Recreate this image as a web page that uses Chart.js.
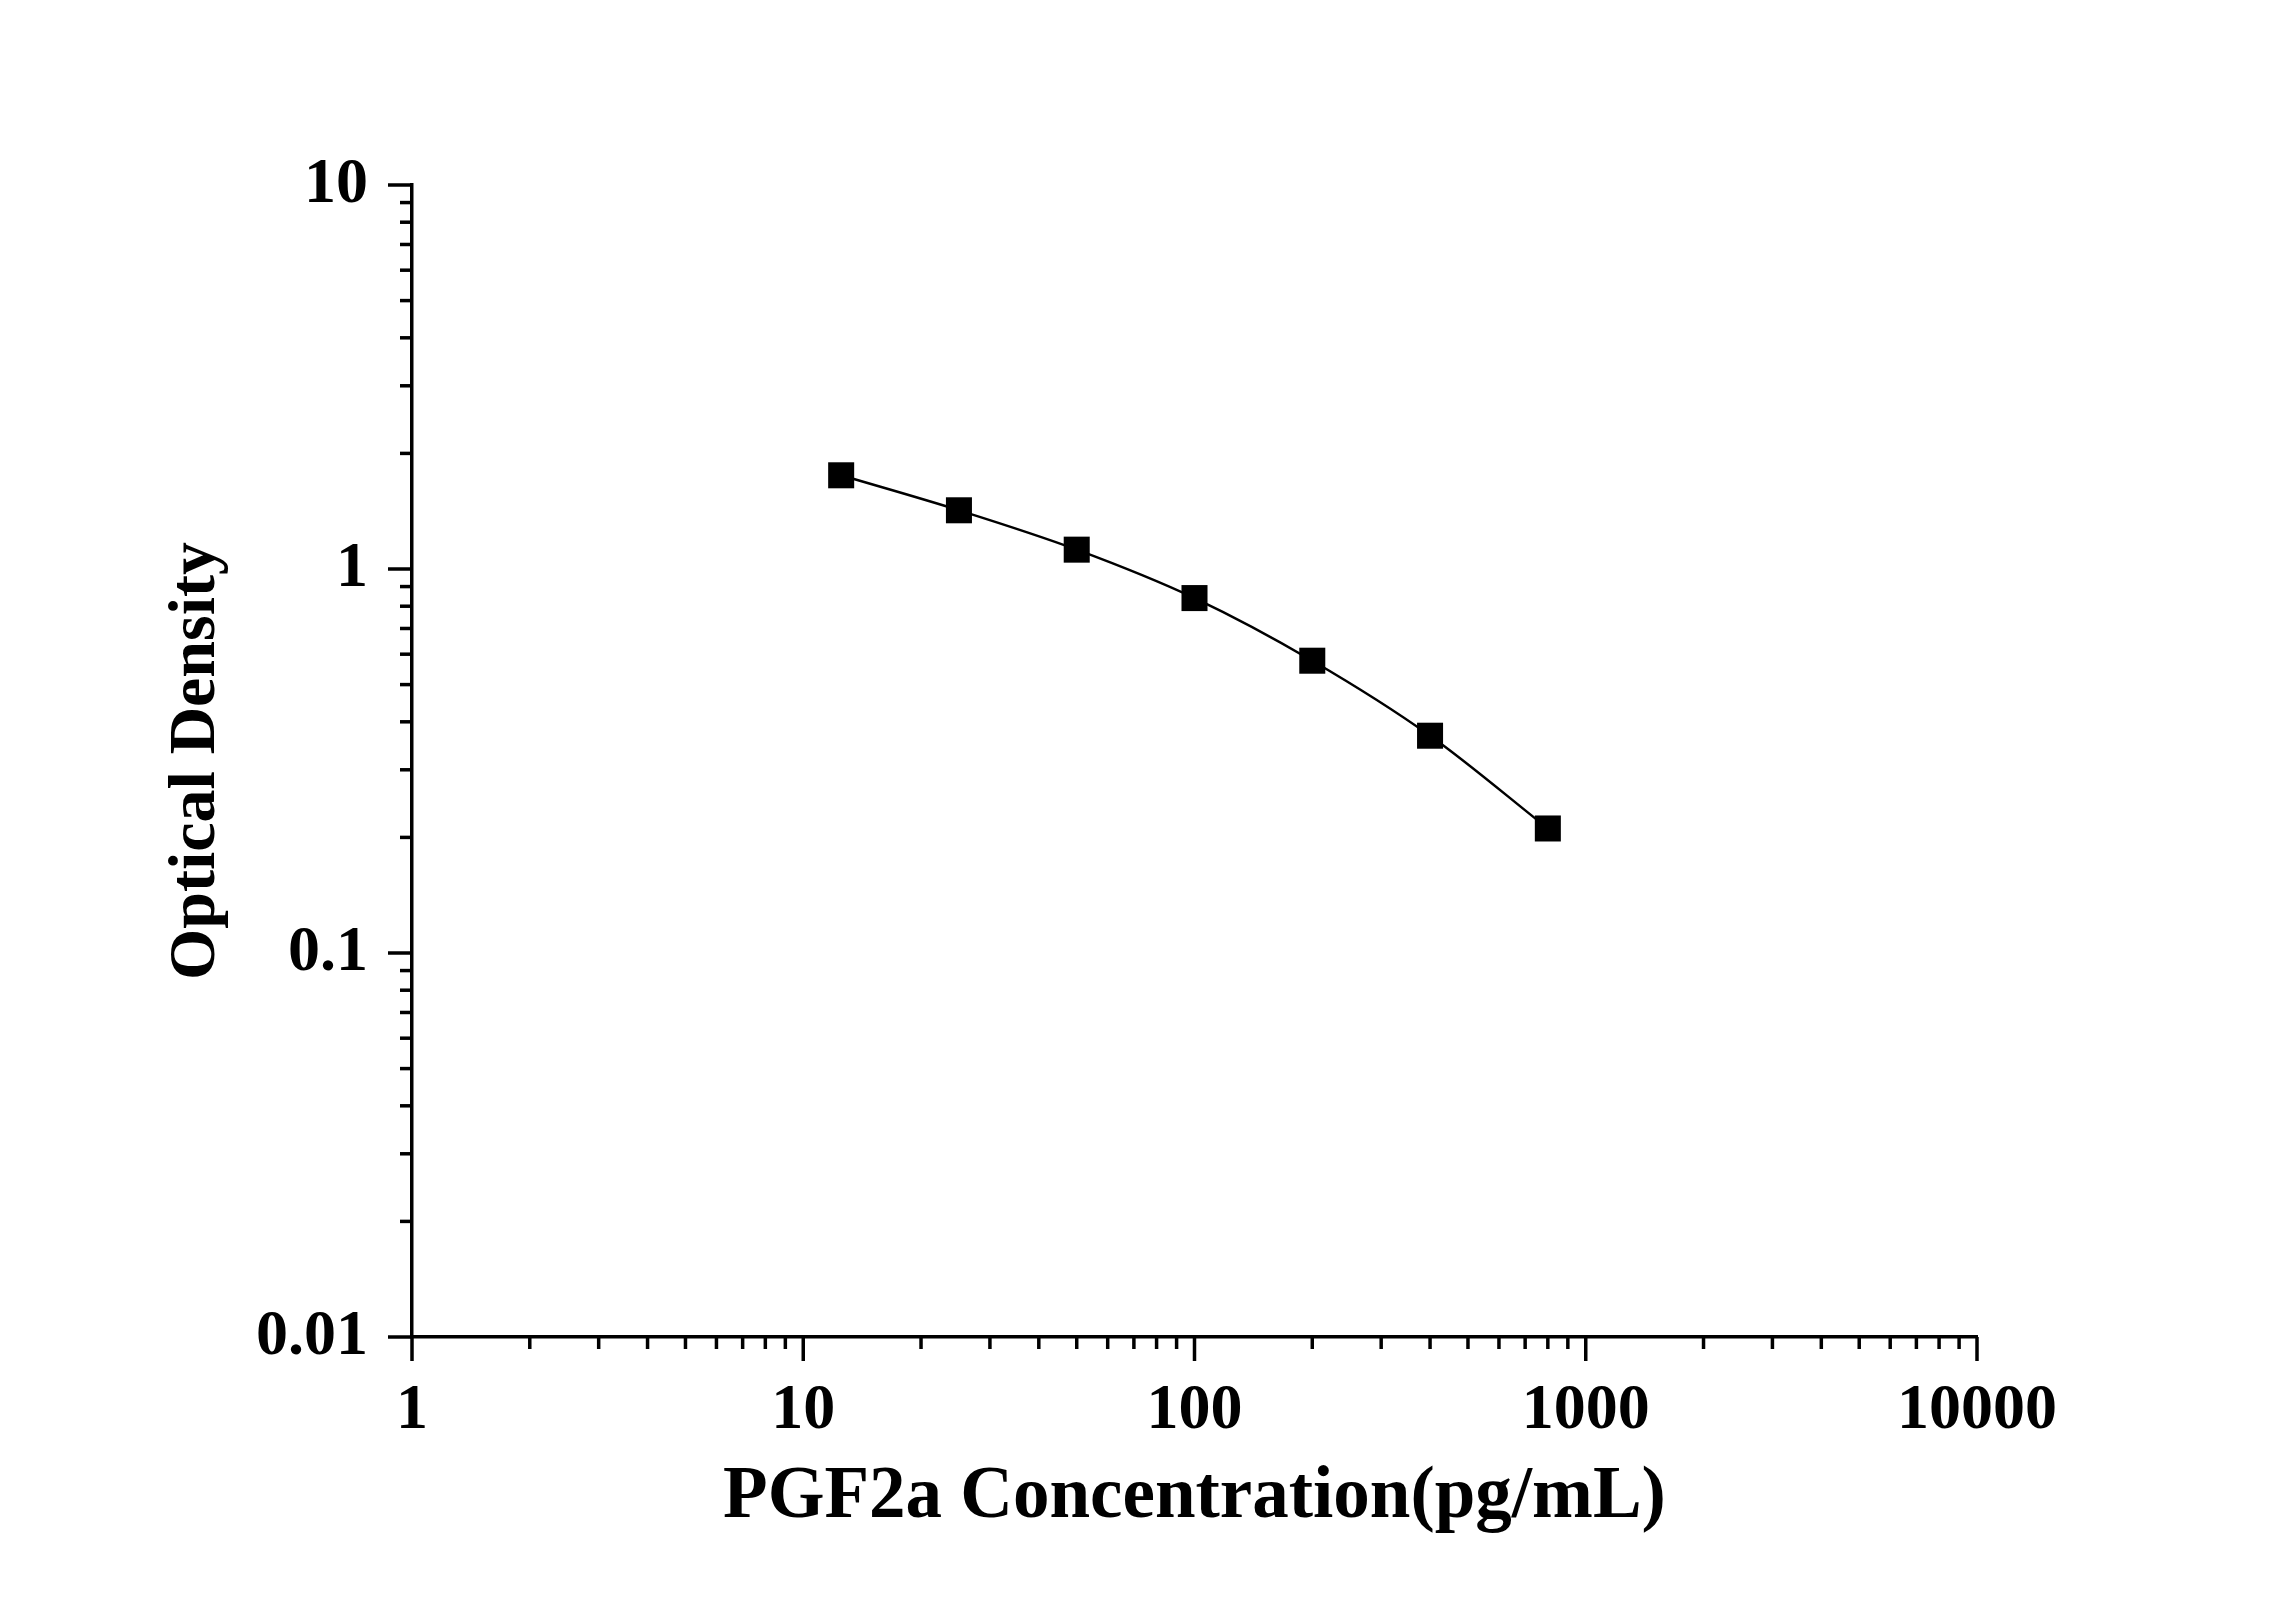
<!DOCTYPE html>
<html>
<head>
<meta charset="utf-8">
<script src="https://cdn.jsdelivr.net/npm/chart.js@4.4.1/dist/chart.umd.min.js"></script>
<style>
    html, body { margin: 0; padding: 0; background: #fff; }
    canvas { display: block; }
</style>
</head>
<body>
<canvas id="odCurve" width="2296" height="1604"></canvas>
<script>
// Standard curve data
const concentration = [12.5, 25, 50, 100, 200, 400, 800];
const opticalDensity = [1.754, 1.422, 1.123, 0.840, 0.577, 0.368, 0.211];

// Axis tick labels (decades) and minor multipliers
const xDecades = [1, 10, 100, 1000, 10000];
const yDecades = [0.01, 0.1, 1, 10];
const minorSteps = [2, 3, 4, 5, 6, 7, 8, 9];

const fontFamily = "'Liberation Serif', 'Times New Roman', serif";

function logTicks(decades)
{
    const ticks = [];
    decades.forEach(function (d, i) {
        ticks.push({ value: d, major: true });
        if (i < decades.length - 1) {
            minorSteps.forEach(function (m) {
                ticks.push({ value: Number((m * d).toPrecision(6)), major: false });
            });
        }
    });
    return ticks;
}

function decadeLabel(decades)
{
    return function (value) {
        return decades.indexOf(value) >= 0 ? String(value) : '';
    };
}

// Draw outward tick marks, long for decades and short for minor steps
const tickMarks = {
    id: 'tickMarks',
    afterDraw(chart) {
        const ctx = chart.ctx;
        const area = chart.chartArea;
        ctx.save();
        ctx.strokeStyle = '#000';
        ctx.lineWidth = 3.5;
        ctx.lineCap = 'butt';
        chart.scales.x.ticks.forEach(function (t) {
            const px = chart.scales.x.getPixelForValue(t.value);
            const len = t.major ? 24 : 12;
            ctx.beginPath();
            ctx.moveTo(px, area.bottom);
            ctx.lineTo(px, area.bottom + len);
            ctx.stroke();
        });
        chart.scales.y.ticks.forEach(function (t) {
            const py = chart.scales.y.getPixelForValue(t.value);
            const len = t.major ? 24 : 12;
            ctx.beginPath();
            ctx.moveTo(area.left, py);
            ctx.lineTo(area.left - len, py);
            ctx.stroke();
        });
        ctx.restore();
    }
};

const ctxOd = document.getElementById('odCurve');
const odCurve = new Chart(ctxOd, {
    type: 'line',
    data: {
        datasets: [{
            label: 'PGF2a',
            data: concentration.map(function (c, i) { return { x: c, y: opticalDensity[i] }; }),
            borderColor: '#000',
            borderWidth: 2.5,
            backgroundColor: '#000',
            pointStyle: 'rect',
            pointRadius: 18.4,
            pointHoverRadius: 18.4,
            pointBorderWidth: 0,
            cubicInterpolationMode: 'monotone',
            fill: false
        }]
    },
    options: {
        responsive: false,
        animation: false,
        devicePixelRatio: 1,
        layout: {
            padding: { top: 185, right: 319, bottom: 0, left: 0 }
        },
        plugins: {
            legend: { display: false },
            tooltip: { enabled: false }
        },
        scales: {
            x: {
                type: 'logarithmic',
                min: 1,
                max: 10000,
                afterBuildTicks: function (axis) { axis.ticks = logTicks(xDecades); },
                afterFit: function (axis) { axis.height = 267; },
                grid: {
                    display: true,
                    drawOnChartArea: false,
                    drawTicks: true,
                    tickLength: 24,
                    color: 'rgba(0,0,0,0)'
                },
                border: { display: true, color: '#000', width: 3.5 },
                ticks: {
                    autoSkip: false,
                    maxRotation: 0,
                    padding: 12,
                    color: '#000',
                    font: { family: fontFamily, size: 64, weight: 'bold' },
                    callback: decadeLabel(xDecades)
                },
                title: {
                    display: true,
                    text: 'PGF2a Concentration(pg/mL)',
                    color: '#000',
                    font: { family: fontFamily, size: 73, weight: 'bold' },
                    padding: { top: 0, bottom: 62 }
                }
            },
            y: {
                type: 'logarithmic',
                min: 0.01,
                max: 10,
                afterBuildTicks: function (axis) { axis.ticks = logTicks(yDecades); },
                afterFit: function (axis) { axis.width = 412; },
                grid: {
                    display: true,
                    drawOnChartArea: false,
                    drawTicks: true,
                    tickLength: 24,
                    color: 'rgba(0,0,0,0)'
                },
                border: { display: true, color: '#000', width: 3.5 },
                ticks: {
                    autoSkip: false,
                    padding: 20,
                    color: '#000',
                    font: { family: fontFamily, size: 64, weight: 'bold' },
                    callback: decadeLabel(yDecades)
                },
                title: {
                    display: true,
                    text: 'Optical Density',
                    color: '#000',
                    font: { family: fontFamily, size: 66, weight: 'bold' },
                    padding: { top: 157, bottom: 0 }
                }
            }
        }
    },
    plugins: [tickMarks]
});
</script>
</body>
</html>
